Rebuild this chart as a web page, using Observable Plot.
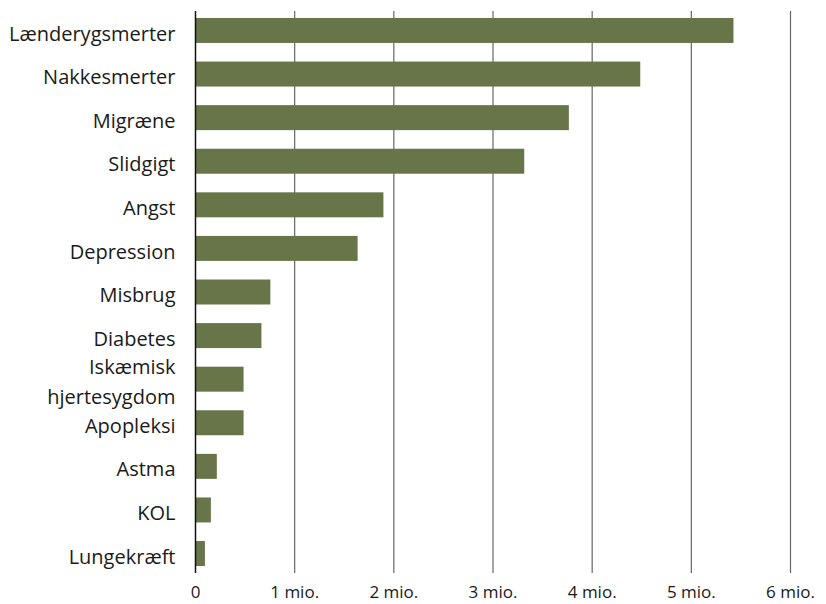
<!DOCTYPE html>
<html>
<head>
<meta charset="utf-8">
<script src="https://cdn.jsdelivr.net/npm/d3@7"></script>
<script src="https://cdn.jsdelivr.net/npm/@observablehq/plot@0.6"></script>
<style>
  html, body { margin: 0; padding: 0; background: #fff; }
  #chart svg { font-family: "Open Sans", sans-serif; }
</style>
</head>
<body>
<div id="chart"></div>
<script>
const categories = [
  "Lænderygsmerter", "Nakkesmerter", "Migræne", "Slidgigt", "Angst",
  "Depression", "Misbrug", "Diabetes", "Iskæmisk\nhjertesygdom",
  "Apopleksi", "Astma", "KOL", "Lungekræft"
];
const values = [5.43, 4.49, 3.77, 3.32, 1.90, 1.64, 0.76, 0.67, 0.49, 0.49, 0.22, 0.16, 0.10];
const xTicks = [0, 1, 2, 3, 4, 5, 6];
const xTickLabels = ["0", "1 mio.", "2 mio.", "3 mio.", "4 mio.", "5 mio.", "6 mio."];

const data = categories.map((c, i) => ({ category: c, value: values[i] }));

const chart = Plot.plot({
  width: 826,
  height: 604,
  marginLeft: 195,
  marginRight: 36,
  marginTop: 11,
  marginBottom: 31,
  style: { fontFamily: "Open Sans, sans-serif", color: "#1a1a1a", background: "#fff" },
  x: { domain: [0, 6], ticks: xTicks, label: null },
  y: { domain: categories, paddingInner: 0.427, paddingOuter: 0.16, round: false, label: null },
  marks: [
    Plot.ruleX(xTicks.slice(1), { stroke: "#666", strokeWidth: 1.2 }),
    Plot.barX(data, { x: "value", y: "category", fill: "#687549" }),
    Plot.ruleX([0], { stroke: "#111", strokeWidth: 1.5 }),
    Plot.axisX({
      ticks: xTicks,
      tickSize: 0,
      tickPadding: 12,
      tickFormat: (d) => xTickLabels[xTicks.indexOf(d)],
      fontSize: 17,
      label: null
    }),
    Plot.axisY({
      tickSize: 0,
      tickPadding: 20,
      fontSize: 20,
      lineHeight: 1.5,
      label: null
    })
  ]
});
document.getElementById("chart").appendChild(chart);
</script>
</body>
</html>
